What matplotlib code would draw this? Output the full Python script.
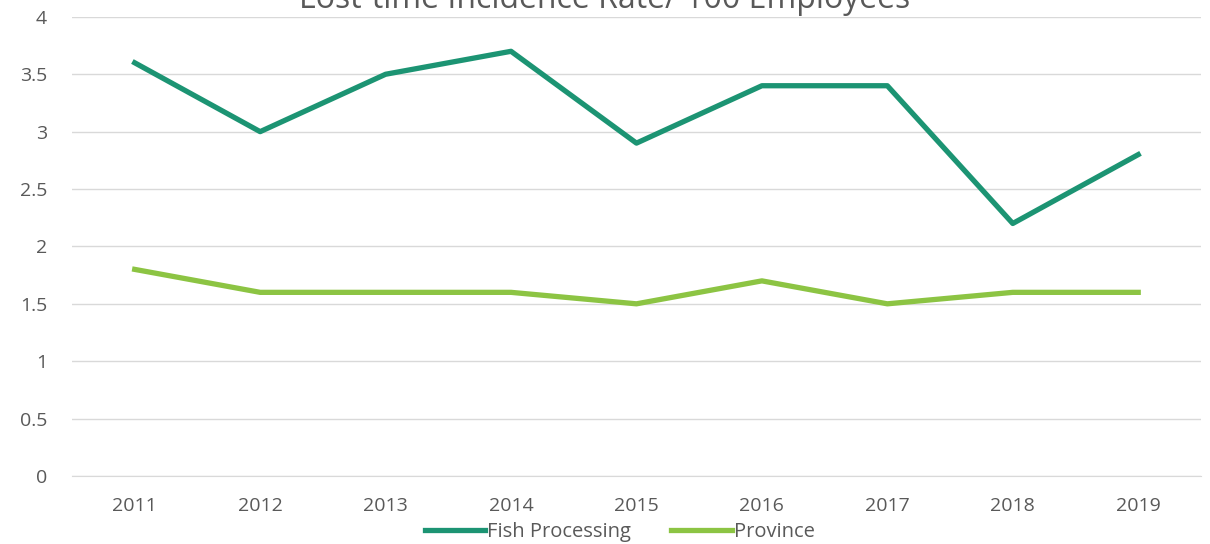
import matplotlib
matplotlib.use("Agg")
from matplotlib import pyplot as plt

plt.rcParams['font.family'] = ['Open Sans', 'DejaVu Sans']

years = ["2011", "2012", "2013", "2014", "2015", "2016", "2017", "2018", "2019"]
fish = [3.6, 3.0, 3.5, 3.7, 2.9, 3.4, 3.4, 2.2, 2.8]
province = [1.8, 1.6, 1.6, 1.6, 1.5, 1.7, 1.5, 1.6, 1.6]

fig = plt.figure(figsize=(12.1, 5.44), dpi=100)
ax = fig.add_axes([0.0595, 0.125, 0.933, 0.844])

x = range(len(years))
ax.plot(x, fish, color="#1c9473", lw=3.8, solid_joinstyle="round", label="Fish Processing")
ax.plot(x, province, color="#8cc443", lw=3.8, solid_joinstyle="round", label="Province")

ax.set_xlim(-0.5, len(years) - 0.5)
ax.set_ylim(0, 4)
ax.set_yticks([0, 0.5, 1, 1.5, 2, 2.5, 3, 3.5, 4])
ax.set_yticklabels(["0", "0.5", "1", "1.5", "2", "2.5", "3", "3.5", "4"])
ax.set_xticks(list(x))
ax.set_xticklabels(years)
ax.grid(axis="y", color="#d9d9d9", lw=1)
ax.set_axisbelow(True)
for s in ["top", "right", "left"]:
    ax.spines[s].set_visible(False)
ax.spines["bottom"].set_color("#d9d9d9")
ax.tick_params(length=0, labelsize=14, colors="#595959")
ax.tick_params(axis="x", pad=15)
ax.tick_params(axis="y", pad=18)

fig.text(0.5, 1.0, "Lost-time Incidence Rate/ 100 Employees", ha="center", va="center",
         fontsize=23, color="#595959")

fig.legend(loc="center", bbox_to_anchor=(0.512, 0.022), ncol=2, frameon=False,
           fontsize=14.5, labelcolor="#595959", handlelength=3.0, handletextpad=0.1,
           columnspacing=2.0)

fig.savefig("out.png", dpi=100)
